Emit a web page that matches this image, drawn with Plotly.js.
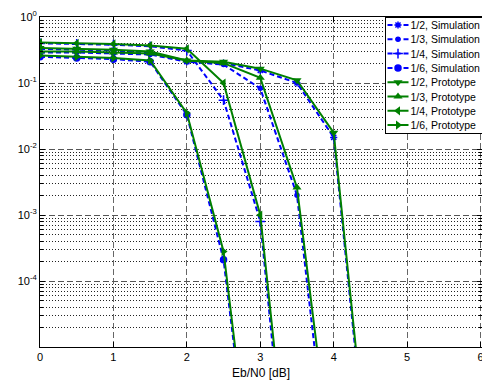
<!DOCTYPE html>
<html>
<head>
<meta charset="utf-8">
<script src="https://cdn.plot.ly/plotly-3.0.1.min.js"></script>
<style>html,body{margin:0;padding:0;overflow:hidden;background:#fff;}</style>
</head>
<body>
<div id="chart" style="width:482px;height:385px;"></div>
<script>
// Eb/N0 points [dB]
const ebn0 = [0, 0.5, 1, 1.5, 2, 2.5, 3, 3.5, 4, 4.5];

// Simulation BER (blue dashed)
const sim_12 = [0.33, 0.32, 0.31, 0.29, 0.21, 0.20, 0.155, 0.10, 0.015, 5e-8];
const sim_13 = [0.29, 0.29, 0.28, 0.27, 0.21, 0.19, 0.083, 2.0e-3, 3e-8];
const sim_14 = [0.40, 0.39, 0.38, 0.36, 0.31, 0.055, 8e-4, 2e-9];
const sim_16 = [0.25, 0.24, 0.23, 0.21, 0.033, 2.1e-4, 5.6e-9];

// Prototype BER (green solid)
const pro_12 = [0.34, 0.33, 0.32, 0.30, 0.22, 0.21, 0.165, 0.11, 0.0177, 7e-8];
const pro_13 = [0.30, 0.30, 0.29, 0.28, 0.22, 0.20, 0.12, 2.6e-3, 9e-8];
const pro_14 = [0.41, 0.40, 0.39, 0.37, 0.33, 0.10, 1.0e-3, 5.5e-9];
const pro_16 = [0.26, 0.25, 0.24, 0.22, 0.035, 2.8e-4, 7e-9];

const xTicks = [0, 1, 2, 3, 4, 5, 6];
const yTicks = [1e-4, 1e-3, 1e-2, 1e-1, 1];
const yTickText = ['10<sup>-4</sup>', '10<sup>-3</sup>', '10<sup>-2</sup>', '10<sup>-1</sup>', '10<sup>0</sup>'];

const minorY = [];
for (let e = -5; e < 0; e++) for (let m = 2; m <= 9; m++) minorY.push(m * Math.pow(10, e));

const BLUE = '#0000ff', GREEN = '#008000';
function simTrace(y, name, sym, size) {
  return {x: ebn0.slice(0, y.length), y: y, name: name, type: 'scatter', mode: 'lines+markers',
    line: {color: BLUE, width: 2, dash: '5px,3px'},
    marker: {symbol: sym, size: size, color: BLUE, line: {color: BLUE, width: 1.5}}};
}
function proTrace(y, name, sym) {
  return {x: ebn0.slice(0, y.length), y: y, name: name, type: 'scatter', mode: 'lines+markers',
    line: {color: GREEN, width: 2},
    marker: {symbol: sym, size: 8, color: GREEN, line: {color: GREEN, width: 0}}};
}

const data = [
  simTrace(sim_12, '1/2, Simulation', 'asterisk-open', 6),
  simTrace(sim_13, '1/3, Simulation', 'circle', 4),
  simTrace(sim_14, '1/4, Simulation', 'cross-thin-open', 7),
  simTrace(sim_16, '1/6, Simulation', 'circle', 6),
  proTrace(pro_12, '1/2, Prototype', 'triangle-down'),
  proTrace(pro_13, '1/3, Prototype', 'triangle-up'),
  proTrace(pro_14, '1/4, Prototype', 'triangle-left'),
  proTrace(pro_16, '1/6, Prototype', 'triangle-right')
];

const layout = {
  width: 482, height: 385,
  margin: {l: 40, r: 0, t: 17, b: 38},
  paper_bgcolor: '#fff', plot_bgcolor: '#fff',
  font: {family: 'Liberation Sans, Arial, sans-serif', size: 11, color: '#000'},
  showlegend: true,
  legend: {x: 0.998, y: 1, xanchor: 'right', yanchor: 'top',
    bgcolor: '#fff', bordercolor: '#000', borderwidth: 1,
    font: {size: 10.5}, tracegroupgap: 0, itemwidth: 30},
  xaxis: {range: [0, 6.02], tickvals: xTicks, ticktext: xTicks.map(String),
    ticklabeloverflow: 'allow',
    showline: true, linecolor: '#000', linewidth: 1, mirror: 'ticks',
    ticks: 'inside', ticklen: 5, tickcolor: '#000',
    showgrid: true, gridcolor: '#666', gridwidth: 1, griddash: '6px,3px',
    zeroline: false,
    title: {text: 'Eb/N0 [dB]', font: {size: 12}, standoff: 6}},
  yaxis: {type: 'log', range: [-5, 0], tickvals: yTicks, ticktext: yTickText,
    showline: true, linecolor: '#000', linewidth: 1, mirror: 'ticks',
    ticks: 'inside', ticklen: 5, tickcolor: '#000',
    showgrid: true, gridcolor: '#555', gridwidth: 1, griddash: '6px,3px',
    zeroline: false,
    minor: {tickmode: 'array', tickvals: minorY, showgrid: true, gridcolor: '#222',
      gridwidth: 1, griddash: '1px,2px', ticks: 'inside', ticklen: 3, tickcolor: '#000'}}
};

// Compact the legend to match the reference's MATLAB-style box
function compactLegend() {
  const leg = document.querySelector('#chart .legend');
  if (!leg) return;
  const spacing = 14.3;
  const items = leg.querySelectorAll('.traces');
  items.forEach((g, i) => {
    g.setAttribute('transform', 'translate(0,' + (8.5 + i * spacing) + ')');
    const line = g.querySelector('.legendlines path');
    if (line) line.setAttribute('d', 'M3,0h21');
    g.querySelectorAll('.legendpoints path').forEach(p => p.setAttribute('transform', 'translate(13.5,0)'));
    const txt = g.querySelector('text.legendtext');
    if (txt) txt.setAttribute('x', 26);
    const tog = g.querySelector('rect.legendtoggle');
    if (tog) tog.setAttribute('height', spacing);
  });
  const bg = leg.querySelector('rect.bg');
  const w = 97, h = items.length * spacing + 2.5;
  if (bg) { bg.setAttribute('width', w); bg.setAttribute('height', h); }
  leg.setAttribute('transform', 'translate(' + (481.5 - w) + ',16.5)');
}

Plotly.newPlot('chart', data, layout, {displayModeBar: false, staticPlot: true}).then(compactLegend);
</script>
</body>
</html>
